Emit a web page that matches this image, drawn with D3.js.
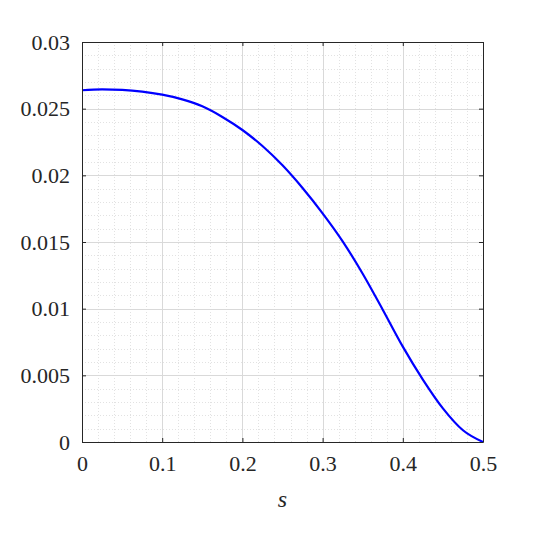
<!DOCTYPE html>
<html><head><meta charset="utf-8">
<script src="https://cdn.jsdelivr.net/npm/d3@7"></script>
<style>
html,body{margin:0;padding:0;background:#fff;}
svg text{font-family:"Liberation Serif","DejaVu Serif",serif;fill:#262626;}
</style></head>
<body>
<svg id="chart" width="542" height="542"></svg>
<script>
const sValues = [0, 0.025, 0.05, 0.075, 0.1, 0.125, 0.15, 0.175, 0.2, 0.225, 0.25, 0.275, 0.3, 0.325, 0.35, 0.375, 0.4, 0.425, 0.45, 0.475, 0.5];
const yValues = [0.02638, 0.02645, 0.02641, 0.02628, 0.02605, 0.02570, 0.02518, 0.02438, 0.02340, 0.02220, 0.02075, 0.01905, 0.01715, 0.01505, 0.01262, 0.00992, 0.00715, 0.00468, 0.00252, 0.00088, 0.0];
const xTicks = [0, 0.1, 0.2, 0.3, 0.4, 0.5];
const xTickLabels = ["0", "0.1", "0.2", "0.3", "0.4", "0.5"];
const yTicks = [0, 0.005, 0.01, 0.015, 0.02, 0.025, 0.03];
const yTickLabels = ["0", "0.005", "0.01", "0.015", "0.02", "0.025", "0.03"];
const xLabel = "s";

const svg = d3.select("#chart");
const L = 82, R = 483, T = 42, B = 442;
const x = d3.scaleLinear().domain([0, 0.5]).range([L, R]);
const y = d3.scaleLinear().domain([0, 0.03]).range([B, T]);
const axisColor = "#262626";

// minor grid
const xMinor = d3.range(0, 0.5 + 1e-9, 0.02).filter(v => !xTicks.some(t => Math.abs(t - v) < 1e-9));
const yMinor = d3.range(0, 0.03 + 1e-9, 0.001).filter(v => !yTicks.some(t => Math.abs(t - v) < 1e-9));
const g = svg.append("g");
g.selectAll(".xm").data(xMinor).enter().append("line")
  .attr("x1", d => Math.round(x(d)) + 0.5).attr("x2", d => Math.round(x(d)) + 0.5)
  .attr("y1", T).attr("y2", B)
  .attr("stroke", "#e2e2e2").attr("stroke-width", 1).attr("stroke-dasharray", "1,2");
g.selectAll(".ym").data(yMinor).enter().append("line")
  .attr("y1", d => Math.round(y(d)) + 0.5).attr("y2", d => Math.round(y(d)) + 0.5)
  .attr("x1", L).attr("x2", R)
  .attr("stroke", "#e2e2e2").attr("stroke-width", 1).attr("stroke-dasharray", "1,2");
// major grid
g.selectAll(".xg").data(xTicks).enter().append("line")
  .attr("x1", d => Math.round(x(d)) + 0.5).attr("x2", d => Math.round(x(d)) + 0.5)
  .attr("y1", T).attr("y2", B)
  .attr("stroke", "#d9d9d9").attr("stroke-width", 1);
g.selectAll(".yg").data(yTicks).enter().append("line")
  .attr("y1", d => Math.round(y(d)) + 0.5).attr("y2", d => Math.round(y(d)) + 0.5)
  .attr("x1", L).attr("x2", R)
  .attr("stroke", "#d9d9d9").attr("stroke-width", 1);

// line
const line = d3.line().x((d, i) => x(sValues[i])).y(d => y(d)).curve(d3.curveMonotoneX);
svg.append("path").datum(yValues).attr("d", line)
  .attr("fill", "none").attr("stroke", "#0000ff").attr("stroke-width", 2.2)
  .attr("stroke-linejoin", "round");

// axes
const fs = "22px";
const xAxis = d3.axisBottom(x).tickValues(xTicks).tickFormat((d, i) => xTickLabels[i]).tickSizeInner(-4).tickSizeOuter(0).tickPadding(14);
const gx = svg.append("g").attr("transform", `translate(0,${B})`).call(xAxis);
const yAxis = d3.axisLeft(y).tickValues(yTicks).tickFormat((d, i) => yTickLabels[i]).tickSizeInner(-4).tickSizeOuter(0).tickPadding(12);
const gy = svg.append("g").attr("transform", `translate(${L},0)`).call(yAxis);
const xTop = d3.axisTop(x).tickValues(xTicks).tickFormat("").tickSizeInner(-4).tickSizeOuter(0);
const gxt = svg.append("g").attr("transform", `translate(0,${T})`).call(xTop);
const yRight = d3.axisRight(y).tickValues(yTicks).tickFormat("").tickSizeInner(-4).tickSizeOuter(0);
const gyr = svg.append("g").attr("transform", `translate(${R},0)`).call(yRight);
[gx, gy, gxt, gyr].forEach(a => {
  a.select(".domain").attr("stroke", axisColor);
  a.selectAll(".tick line").attr("stroke", axisColor);
  a.selectAll("text").attr("font-size", fs).attr("fill", axisColor)
    .style("font-family", '"Liberation Serif", serif');
});
gx.selectAll("text").attr("dy", "0.68em");
gy.selectAll("text").attr("dy", "0.33em");

svg.append("text").attr("x", (L + R) / 2).attr("y", 507)
  .attr("text-anchor", "middle").attr("font-size", "24px").attr("font-style", "italic")
  .style("font-family", '"Liberation Serif", serif').attr("fill", axisColor).text(xLabel);
</script>
</body></html>
